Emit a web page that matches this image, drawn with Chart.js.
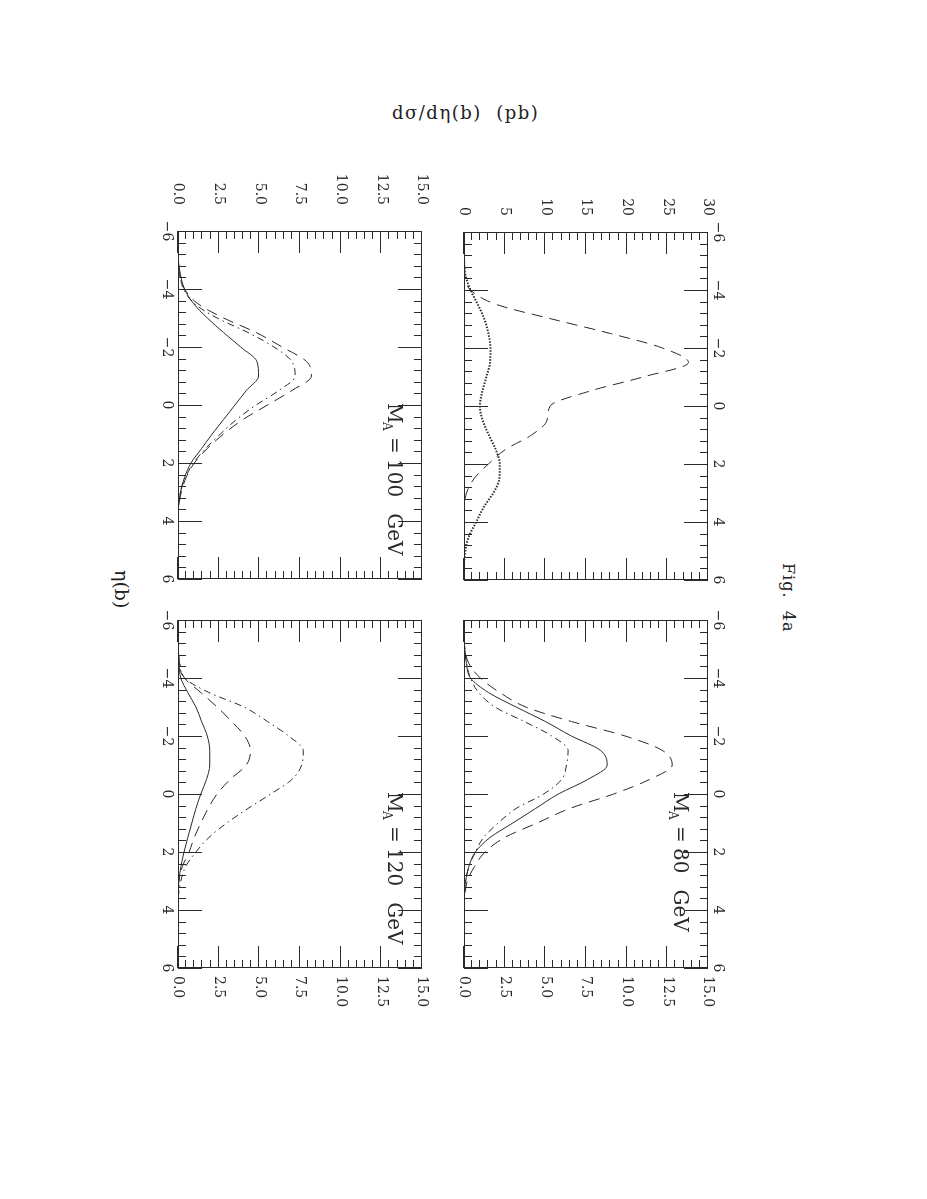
<!DOCTYPE html>
<html>
<head>
<meta charset="utf-8">
<title>Fig. 4a</title>
<script src="https://cdn.jsdelivr.net/npm/chart.js@4.4.1/dist/chart.umd.min.js"></script>
<style>
  html, body { margin: 0; padding: 0; background: #fff; }
  body { width: 927px; height: 1199px; position: relative; overflow: hidden; }
  /* landscape page, turned a quarter clockwise like the scan */
  #page {
    position: absolute; left: 0; top: 0;
    width: 1199px; height: 927px;
    transform-origin: 0 0;
    transform: translate(927px, 0) rotate(90deg);
  }
  #page canvas { position: absolute; }
  .txt { position: absolute; font-family: 'DejaVu Serif', serif; color: #222; white-space: pre; line-height: 1; }
  #figLabel { left: 563px; top: 131px; font-size: 16px; letter-spacing: 1px; }
  #xTitle   { left: 570px; top: 796px; font-size: 19px; }
  #yTitle   { left: 392px; top: 104px; font-size: 18px; letter-spacing: 1.5px; }
</style>
</head>
<body>
<div id="page">
  <div class="txt" id="figLabel">Fig.  4a</div>
  <div class="txt" id="xTitle">&eta;(b)</div>
</div>
<div class="txt" id="yTitle">d&sigma;/d&eta;(b)  (pb)</div>

<script>
'use strict';

// ── DATA ─────────────────────────────────────────────────────────
var ETA = [-6, -5.5, -5, -4.5, -4, -3.5, -3, -2.5, -2, -1.5, -1, -0.5,
           0, 0.5, 1, 1.5, 2, 2.5, 3, 3.5, 4, 4.5, 5, 5.5, 6];

var X_TICKS = [-6, -4, -2, 0, 2, 4, 6];
var Y_TICKS_30 = [0, 5, 10, 15, 20, 25, 30];
var Y_TICKS_15 = [0, 2.5, 5, 7.5, 10, 12.5, 15];

// top-left panel (no mass label)
var P1_DASHED = [0, 0, 0, 0.1, 0.8, 4.0, 10.8, 18.0, 24.4, 27.6, 22.0, 15.3,
                 10.6, 10.2, 8.3, 5.1, 3.0, 1.25, 0.3, 0.05, 0, 0, 0, 0, 0];
var P1_DOTTED = [0, 0, 0.02, 0.2, 0.8, 1.7, 2.5, 3.0, 3.25, 3.2, 2.75, 2.25,
                 1.95, 2.3, 3.05, 3.9, 4.4, 4.35, 3.6, 2.4, 1.5, 0.6, 0.15, 0, 0];

// M_A = 80 GeV
var P2_SOLID   = [0, 0, 0.05, 0.15, 0.4, 1.5, 3.2, 5.0, 6.6, 8.4, 8.8, 7.6,
                  5.8, 4.4, 3.0, 1.6, 0.7, 0.3, 0.1, 0, 0, 0, 0, 0, 0];
var P2_DASHED  = [0, 0, 0.05, 0.3, 1.0, 2.2, 3.8, 6.6, 9.9, 12.2, 12.8, 11.4,
                  9.2, 6.5, 4.5, 2.5, 1.3, 0.65, 0.2, 0.05, 0, 0, 0, 0, 0];
var P2_DASHDOT = [0, 0, 0.05, 0.15, 0.4, 0.9, 1.9, 3.7, 5.4, 6.4, 6.3, 6.0,
                  4.9, 3.2, 2.1, 1.2, 0.7, 0.3, 0.1, 0, 0, 0, 0, 0, 0];

// M_A = 100 GeV
var P3_SOLID   = [0, 0, 0.02, 0.15, 0.4, 0.95, 1.8, 2.8, 3.85, 4.85, 4.95, 4.2,
                  3.5, 2.8, 2.1, 1.45, 0.8, 0.4, 0.15, 0.03, 0, 0, 0, 0, 0];
var P3_DASHED  = [0, 0, 0.02, 0.1, 0.4, 1.2, 2.8, 4.8, 6.4, 7.9, 8.2, 7.0,
                  5.5, 4.0, 2.8, 1.8, 1.0, 0.5, 0.2, 0.05, 0, 0, 0, 0, 0];
var P3_DASHDOT = [0, 0, 0.02, 0.1, 0.35, 1.0, 2.4, 4.3, 5.9, 7.0, 7.2, 6.2,
                  4.8, 3.6, 2.6, 1.7, 0.95, 0.45, 0.15, 0.04, 0, 0, 0, 0, 0];

// M_A = 120 GeV
var P4_SOLID   = [0, 0, 0.02, 0.06, 0.17, 0.6, 1.1, 1.45, 1.8, 1.95, 1.95, 1.75,
                  1.4, 1.1, 0.85, 0.6, 0.37, 0.18, 0.05, 0, 0, 0, 0, 0, 0];
var P4_DASHED  = [0, 0, 0.02, 0.1, 0.4, 1.4, 2.4, 3.3, 4.1, 4.45, 4.2, 3.2,
                  2.4, 1.85, 1.4, 1.0, 0.68, 0.27, 0.05, 0, 0, 0, 0, 0, 0];
var P4_DASHDOT = [0, 0, 0.02, 0.1, 0.4, 1.9, 4.05, 5.5, 6.8, 7.7, 7.6, 7.0,
                  5.7, 4.3, 3.0, 1.9, 1.1, 0.47, 0.17, 0.03, 0, 0, 0, 0, 0];

// ── LINE STYLES ──────────────────────────────────────────────────
var STYLES = {
  solid  : { borderDash: [],             borderWidth: 1 },
  dashed : { borderDash: [11, 7],        borderWidth: 1 },
  dashdot: { borderDash: [7, 4, 1.5, 4], borderWidth: 1 },
  dotted : { borderDash: [1.5, 1.5],     borderWidth: 2 }
};

// ── PANELS (plot area in page coords, before the quarter turn) ──
var PANELS = [
  { id: 'p1', left: 232, top: 219, xPos: 'top',    yPos: 'left',  yMax: 30, yTicks: Y_TICKS_30, minor: 1,
    yPad: 16, xPad: 1, mass: null,
    lines: [[P1_DASHED, 'dashed'], [P1_DOTTED, 'dotted']] },
  { id: 'p2', left: 620, top: 219, xPos: 'top',    yPos: 'right', yMax: 15, yTicks: Y_TICKS_15, minor: 0.5,
    yPad: 8, xPad: 1, mass: '80',
    lines: [[P2_SOLID, 'solid'], [P2_DASHED, 'dashed'], [P2_DASHDOT, 'dashdot']] },
  { id: 'p3', left: 231, top: 505, xPos: 'bottom', yPos: 'left',  yMax: 15, yTicks: Y_TICKS_15, minor: 0.5,
    yPad: 26, xPad: 3, mass: '100',
    lines: [[P3_SOLID, 'solid'], [P3_DASHED, 'dashed'], [P3_DASHDOT, 'dashdot']] },
  { id: 'p4', left: 620, top: 505, xPos: 'bottom', yPos: 'right', yMax: 15, yTicks: Y_TICKS_15, minor: 0.5,
    yPad: 8, xPad: 3, mass: '120',
    lines: [[P4_SOLID, 'solid'], [P4_DASHED, 'dashed'], [P4_DASHDOT, 'dashdot']] }
];

var PLOT_W = 348;
var PLOT_H = 244;
var MARGIN = 60;
var INK    = '#2a2a2a';
var FONT   = 'DejaVu Serif';

// ── FRAME, INWARD TICKS, MASS LABEL ──────────────────────────────
var frameTicks = {
  id: 'frameTicks',
  afterDatasetsDraw: function (chart, args, opts) {
    var ctx = chart.ctx;
    var a   = chart.chartArea;
    var xs  = chart.scales.x;
    var ys  = chart.scales.y;

    ctx.save();
    ctx.strokeStyle = INK;
    ctx.lineWidth   = 1;
    ctx.setLineDash([]);
    ctx.strokeRect(a.left + 0.5, a.top + 0.5, a.right - a.left - 1, a.bottom - a.top - 1);

    ctx.beginPath();
    // eta: minor every 0.4, major every 2
    for (var i = 0; i <= 30; i++) {
      var px  = Math.round(xs.getPixelForValue(-6 + i * 0.4)) + 0.5;
      var len = i % 5 === 0 ? 24 : 8;
      ctx.moveTo(px, a.top);    ctx.lineTo(px, a.top + len);
      ctx.moveTo(px, a.bottom); ctx.lineTo(px, a.bottom - len);
    }
    // cross section: five minors per major
    var n = Math.round(ys.max / opts.minor);
    for (var j = 0; j <= n; j++) {
      var py = Math.round(ys.getPixelForValue(j * opts.minor)) + 0.5;
      var l2 = j % 5 === 0 ? 22 : 8;
      ctx.moveTo(a.left, py);  ctx.lineTo(a.left + l2, py);
      ctx.moveTo(a.right, py); ctx.lineTo(a.right - l2, py);
    }
    ctx.stroke();

    if (opts.mass) {
      var x0   = a.left + 172;
      var base = a.top + 34;
      ctx.fillStyle    = INK;
      ctx.textBaseline = 'alphabetic';
      ctx.font = '20px "' + FONT + '"';
      ctx.fillText('M', x0, base);
      ctx.font = '12px "' + FONT + '"';
      ctx.fillText('A', x0 + 19, base + 5);
      ctx.font = '20px "' + FONT + '"';
      ctx.fillText('=', x0 + 34, base);
      ctx.fillText(opts.mass, x0 + 56, base);
      var mw = ctx.measureText(opts.mass).width;
      ctx.fillText('GeV', x0 + 56 + mw + 16, base);
    }
    ctx.restore();
  }
};

// ── BUILD ONE PANEL ──────────────────────────────────────────────
function buildPanel(p) {
  var canvas = document.createElement('canvas');
  canvas.width  = PLOT_W + 2 * MARGIN;
  canvas.height = PLOT_H + 2 * MARGIN;
  canvas.style.left = (p.left - MARGIN) + 'px';
  canvas.style.top  = (p.top  - MARGIN) + 'px';
  document.getElementById('page').appendChild(canvas);

  var pad = {
    left  : p.yPos === 'left'  ? 0 : MARGIN,
    right : p.yPos === 'right' ? 0 : MARGIN,
    top   : p.xPos === 'top'    ? 0 : MARGIN,
    bottom: p.xPos === 'bottom' ? 0 : MARGIN
  };

  var datasets = p.lines.map(function (ln) {
    var st = STYLES[ln[1]];
    return {
      data: ETA.map(function (e, k) { return { x: e, y: ln[0][k] }; }),
      borderColor: INK,
      borderWidth: st.borderWidth,
      borderDash : st.borderDash,
      pointRadius: 0,
      fill: false,
      cubicInterpolationMode: 'monotone'
    };
  });

  var tickFont = { family: FONT, size: 14 };

  return new Chart(canvas.getContext('2d'), {
    type: 'line',
    data: { datasets: datasets },
    options: {
      responsive: false,
      animation : false,
      events    : [],
      layout    : { padding: pad },
      plugins: {
        legend : { display: false },
        tooltip: { enabled: false },
        frameTicks: { minor: p.minor, mass: p.mass }
      },
      scales: {
        x: {
          type: 'linear', position: p.xPos, min: -6, max: 6,
          grid  : { display: false, drawTicks: false },
          border: { display: false },
          afterBuildTicks: function (s) { s.ticks = X_TICKS.map(function (v) { return { value: v }; }); },
          afterFit: function (s) { s.height = MARGIN; },
          ticks: {
            font: tickFont, color: INK, padding: p.xPad, maxRotation: 0, autoSkip: false,
            callback: function (v) { return String(v).replace('-', '\u2212'); }
          }
        },
        y: {
          type: 'linear', position: p.yPos, min: 0, max: p.yMax,
          grid  : { display: false, drawTicks: false },
          border: { display: false },
          afterBuildTicks: function (s) { s.ticks = p.yTicks.map(function (v) { return { value: v }; }); },
          afterFit: function (s) { s.width = MARGIN; },
          ticks: {
            font: tickFont, color: INK, padding: p.yPad, autoSkip: false,
            callback: function (v) { return p.yMax === 30 ? String(v) : v.toFixed(1); }
          }
        }
      }
    },
    plugins: [frameTicks]
  });
}

// ── INIT ─────────────────────────────────────────────────────────
PANELS.forEach(buildPanel);
</script>
</body>
</html>
